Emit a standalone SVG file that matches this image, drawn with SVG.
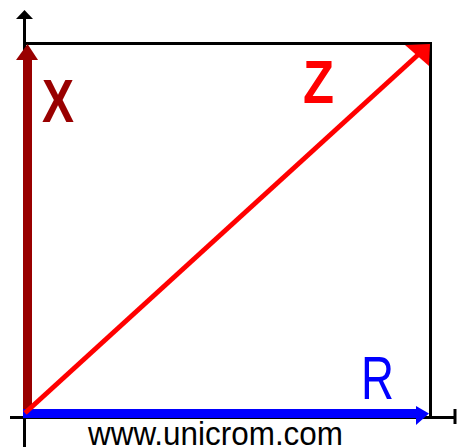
<svg xmlns="http://www.w3.org/2000/svg" width="457" height="447" viewBox="0 0 457 447">
<style>
.ax{stroke:#000;stroke-width:3;fill:none}
.lbl{font-family:"Liberation Sans",Arial,sans-serif;font-weight:bold}
</style>
<rect width="457" height="447" fill="#fff"/>
<g id="axes">
<line class="ax" x1="24.5" y1="16" x2="24.5" y2="447"/>
<polygon points="24.5,10 16,19 33,19" fill="#000"/>
<line class="ax" x1="10" y1="417.5" x2="455" y2="417.5"/>
<line class="ax" x1="455" y1="409" x2="455" y2="424"/>
</g>
<g id="box">
<polyline class="ax" points="24.5,43.5 430.5,43.5 430.5,417.5"/>
</g>
<g id="connectors">
<g id="X-vector">
<rect x="23" y="58" width="9" height="355" fill="#990000"/>
<polygon points="27.5,44 16,60 38,60" fill="#990000"/>
</g>
<g id="R-vector">
<rect x="23" y="409" width="396" height="9" fill="#0000ff"/>
<polygon points="429,413.5 416,406 416,425" fill="#0000ff"/>
</g>
<g id="Z-vector">
<line x1="25" y1="413" x2="420" y2="53" stroke="#ff0000" stroke-width="5"/>
<polygon points="430,44 405,45 429,66" fill="#ff0000"/>
</g>
</g>
<g id="labels">
<text class="lbl" x="42" y="122" font-size="62" fill="#990000" textLength="32" lengthAdjust="spacingAndGlyphs">X</text>
<text class="lbl" x="303" y="103" font-size="62" fill="#ff0000" textLength="31" lengthAdjust="spacingAndGlyphs">Z</text>
<text x="361" y="399" font-size="61" fill="#0000ff" font-family="Liberation Sans,Arial,sans-serif" textLength="33" lengthAdjust="spacingAndGlyphs">R</text>
<text x="88" y="445" font-size="33" fill="#000" font-family="Liberation Sans,Arial,sans-serif" textLength="255" lengthAdjust="spacingAndGlyphs">www.unicrom.com</text>
</g>
</svg>
